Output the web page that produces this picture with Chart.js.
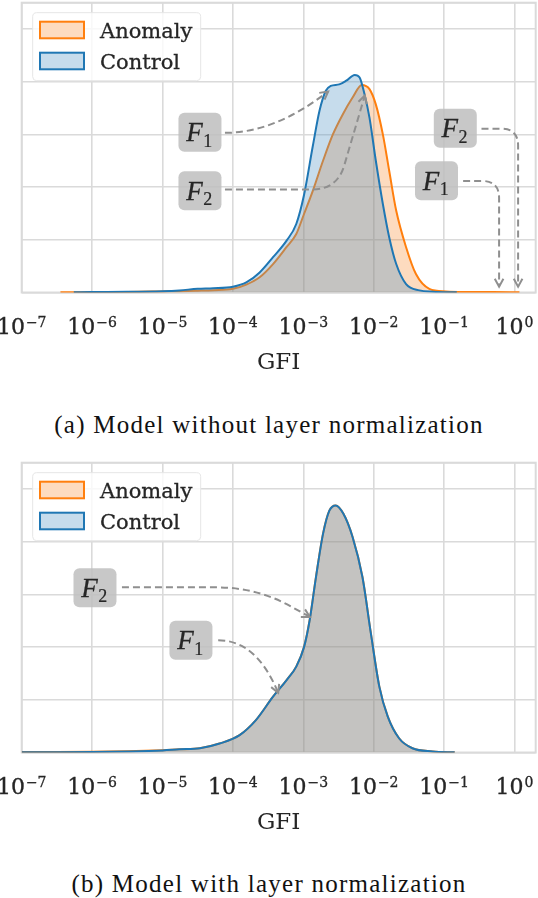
<!DOCTYPE html>
<html>
<head>
<meta charset="utf-8">
<script src="https://cdn.jsdelivr.net/npm/chart.js@4.4.1/dist/chart.umd.min.js"></script>
<style>
html, body { margin: 0; padding: 0; background: #fff; }
body { width: 538px; height: 898px; position: relative; overflow: hidden; }
canvas { position: absolute; left: 0; }
#chartA { top: 0; }
#chartB { top: 460px; }
.caption { position: absolute; left: 0; width: 538px; text-align: center; font-family: "Liberation Serif", serif;
  font-size: 25px; line-height: 25px; letter-spacing: 1.25px; color: #111; }
#capA { top: 412px; }
#capB { top: 871px; }
</style>
</head>
<body>
<canvas id="chartA" width="538" height="380"></canvas>
<div class="caption" id="capA"></div>
<canvas id="chartB" width="538" height="380"></canvas>
<div class="caption" id="capB"></div>
<script>
// values: x is log10(GFI), y is the kde density
const seriesNames = ['Anomaly', 'Control'];
const tickExponents = [-7, -6, -5, -4, -3, -2, -1, 0];
const captions = ['(a) Model without layer normalization', '(b) Model with layer normalization'];

// panel (a) - without layer norm
const anomalyA_log = [-6.45, -6.0, -5.5, -5.0, -4.76, -4.5, -4.28, -4.0, -3.81, -3.62, -3.43, -3.24, -3.10, -2.99, -2.865,
  -2.72, -2.58, -2.44, -2.30, -2.17, -2.06, -1.97, -1.87, -1.78, -1.68, -1.54, -1.40, -1.21, -0.97, -0.7, -0.3, 0.07];
const anomalyA_density = [0.004, 0.006, 0.01, 0.02, 0.025, 0.035, 0.045, 0.07, 0.15, 0.29, 0.54, 0.86, 1.11, 1.49, 1.93,
  2.50, 3.00, 3.38, 3.70, 3.94, 3.86, 3.57, 3.00, 2.31, 1.55, 0.86, 0.35, 0.07, 0.02, 0.01, 0.008, 0.005];
const controlA_log = [-6.26, -6.0, -5.5, -5.0, -4.76, -4.5, -4.28, -4.0, -3.81, -3.62, -3.43, -3.24, -3.10, -2.99, -2.865,
  -2.77, -2.68, -2.61, -2.49, -2.39, -2.27, -2.20, -2.13, -2.06, -1.97, -1.87, -1.78, -1.68, -1.54, -1.35, -1.16, -0.82];
const controlA_density = [0.004, 0.008, 0.012, 0.025, 0.04, 0.07, 0.08, 0.11, 0.19, 0.38, 0.67, 0.98, 1.30, 1.85, 2.78,
  3.45, 3.83, 3.92, 3.95, 4.02, 4.13, 4.08, 3.76, 3.32, 2.50, 1.68, 1.05, 0.54, 0.16, 0.04, 0.015, 0.003];

// panel (b) - with layer norm, the two curves sit on top of each other
const anomalyB_log = [-7.0, -6.5, -6.0, -5.5, -5.0, -4.76, -4.47, -4.19, -3.905, -3.67, -3.43, -3.24, -3.10, -2.99, -2.91,
  -2.82, -2.72, -2.63, -2.54, -2.43, -2.30, -2.16, -2.04, -1.92, -1.80, -1.64, -1.45, -1.16, -0.85];
const anomalyB_density = [0.008, 0.008, 0.012, 0.025, 0.045, 0.06, 0.08, 0.17, 0.33, 0.62, 1.06, 1.37, 1.63, 2.0, 2.51,
  3.33, 4.15, 4.59, 4.69, 4.53, 4.09, 3.33, 2.26, 1.25, 0.68, 0.27, 0.08, 0.02, 0.003];
const controlB_log = [-7.0, -6.5, -6.0, -5.5, -5.0, -4.76, -4.47, -4.19, -3.905, -3.67, -3.43, -3.24, -3.10, -2.99, -2.91,
  -2.82, -2.72, -2.63, -2.54, -2.43, -2.30, -2.16, -2.04, -1.92, -1.80, -1.64, -1.45, -1.16, -0.85];
const controlB_density = [0.005, 0.006, 0.01, 0.02, 0.04, 0.06, 0.08, 0.17, 0.33, 0.62, 1.06, 1.37, 1.63, 2.0, 2.51,
  3.33, 4.15, 4.59, 4.69, 4.53, 4.09, 3.33, 2.26, 1.25, 0.68, 0.27, 0.08, 0.02, 0.003];

// F1 / F2 callouts, in data units (log10 GFI, density)
const notesA = [
  { sub: '1', box: [-4.468, 3.04], from: [-4.113, 3.03], bend: [-3.404, 3.03], to: [-2.647, 3.816], round: 999 },
  { sub: '2', box: [-4.468, 1.93], from: [-4.113, 1.955], bend: [-2.519, 1.955], to: [-2.126, 3.74], round: 25 },
  { sub: '2', box: [-0.841, 3.116], from: [-0.469, 3.11], bend: [0.051, 3.11], to: [0.051, 0.11], round: 17 },
  { sub: '1', box: [-1.108, 2.12], from: [-0.730, 2.117], bend: [-0.219, 2.117], to: [-0.219, 0.11], round: 17 }
];
const notesB = [
  { sub: '2', box: [-5.959, 3.125], from: [-5.576, 3.134], bend: [-3.659, 3.134], to: [-2.907, 2.572], round: 40 },
  { sub: '1', box: [-4.596, 2.131], from: [-4.209, 2.131], bend: [-3.665, 2.131], to: [-3.357, 1.133], round: 999 }
];

const lineColors = ['#ff7f0e', '#1f77b4'];
const fillColors = ['rgba(247,111,0,0.25)', 'rgba(82,149,197,0.33)'];
const gridColor = '#dadada';
const textColor = '#262626';
const serif = '"DejaVu Serif", serif';

function toPoints(logs, vals) {
  return logs.map((e, i) => ({ x: 10 ** e, y: vals[i] }));
}

// text with a hair of stroke so it is as heavy as the matplotlib output
function heavyText(ctx, txt, x, y, w) {
  ctx.fillText(txt, x, y);
  ctx.lineWidth = w;
  ctx.strokeStyle = ctx.fillStyle;
  ctx.strokeText(txt, x, y);
}

// light frame around the plot, like seaborn whitegrid
const framePlugin = {
  id: 'frame',
  beforeDatasetsDraw(chart) {
    const a = chart.chartArea, ctx = chart.ctx;
    ctx.save();
    ctx.strokeStyle = gridColor;
    ctx.lineWidth = 2;
    ctx.strokeRect(a.left, a.top, a.right - a.left, a.bottom - a.top);
    ctx.restore();
  }
};

// 10^n tick labels with a raised exponent, placed at the scale's ticks
const powerTicksPlugin = {
  id: 'powerTicks',
  afterDraw(chart) {
    const sx = chart.scales.x, ctx = chart.ctx;
    const base = chart.chartArea.bottom + 41.8;
    ctx.save();
    ctx.fillStyle = textColor;
    ctx.textBaseline = 'alphabetic';
    ctx.textAlign = 'left';
    sx.ticks.forEach((t, i) => {
      const ex = String(tickExponents[i]).replace('-', '\u2212');
      ctx.font = '22px ' + serif;
      const wb = ctx.measureText('10').width;
      ctx.font = '14px ' + serif;
      const we = ctx.measureText(ex).width;
      const x0 = sx.getPixelForValue(t.value) - (wb + we + 1) / 2;
      ctx.font = '22px ' + serif;
      heavyText(ctx, '10', x0, base, 0.35);
      ctx.font = '14px ' + serif;
      heavyText(ctx, ex, x0 + wb + 1, base - 7.6, 0.3);
    });
    ctx.restore();
  }
};

// legend box in the upper left corner of the plot
const legendPlugin = {
  id: 'innerLegend',
  afterDatasetsDraw(chart) {
    const a = chart.chartArea, ctx = chart.ctx;
    const x0 = a.left + 11, y0 = a.top + 10;
    ctx.save();
    ctx.beginPath();
    ctx.roundRect(x0, y0, 168, 68, 4);
    ctx.fillStyle = 'rgba(255,255,255,0.8)';
    ctx.fill();
    ctx.strokeStyle = '#e6e6e6';
    ctx.lineWidth = 1;
    ctx.stroke();
    chart.data.datasets.forEach((ds, i) => {
      const ry = y0 + 9 + i * 31;
      ctx.fillStyle = '#fff';
      ctx.fillRect(x0 + 7.3, ry, 44, 16.6);
      ctx.fillStyle = ds.backgroundColor;
      ctx.fillRect(x0 + 7.3, ry, 44, 16.6);
      ctx.strokeStyle = ds.borderColor;
      ctx.lineWidth = 2;
      ctx.strokeRect(x0 + 7.3, ry, 44, 16.6);
      ctx.fillStyle = textColor;
      ctx.font = '21px ' + serif;
      ctx.textBaseline = 'alphabetic';
      heavyText(ctx, ds.label, x0 + 67.3, ry + 8.3 + 7.5, 0.3);
    });
    ctx.restore();
  }
};

// dashed arrows and grey F boxes
const notesPlugin = {
  id: 'notes',
  afterDatasetsDraw(chart) {
    const notes = chart.options.plugins.notes.items;
    const sx = chart.scales.x, sy = chart.scales.y, ctx = chart.ctx;
    const px = p => [sx.getPixelForValue(10 ** p[0]), sy.getPixelForValue(p[1])];
    ctx.save();
    notes.forEach(n => {
      const s = px(n.from), c = px(n.bend), e = px(n.to);
      const d1 = Math.hypot(c[0] - s[0], c[1] - s[1]), d2 = Math.hypot(e[0] - c[0], e[1] - c[1]);
      const r1 = Math.min(n.round, d1), r2 = Math.min(n.round, d2);
      const p1 = [c[0] - (c[0] - s[0]) / d1 * r1, c[1] - (c[1] - s[1]) / d1 * r1];
      const p2 = [c[0] + (e[0] - c[0]) / d2 * r2, c[1] + (e[1] - c[1]) / d2 * r2];
      ctx.strokeStyle = '#8f8f8f';
      ctx.lineWidth = 2;
      ctx.setLineDash([7, 4]);
      ctx.beginPath();
      ctx.moveTo(s[0], s[1]);
      ctx.lineTo(p1[0], p1[1]);
      ctx.quadraticCurveTo(c[0], c[1], p2[0], p2[1]);
      ctx.lineTo(e[0], e[1]);
      ctx.stroke();
      // open arrow head
      const dx = e[0] - p2[0], dy = e[1] - p2[1];
      const ang = (Math.abs(dx) < 0.5 && Math.abs(dy) < 0.5) ? Math.atan2(e[1] - c[1], e[0] - c[0]) : Math.atan2(dy, dx);
      ctx.setLineDash([]);
      ctx.beginPath();
      ctx.moveTo(e[0] - 9 * Math.cos(ang - 0.5), e[1] - 9 * Math.sin(ang - 0.5));
      ctx.lineTo(e[0], e[1]);
      ctx.lineTo(e[0] - 9 * Math.cos(ang + 0.5), e[1] - 9 * Math.sin(ang + 0.5));
      ctx.stroke();
      // label box
      const b = px(n.box);
      ctx.beginPath();
      ctx.roundRect(b[0] - 21.5, b[1] - 19.5, 43, 39, 6);
      ctx.fillStyle = 'rgba(190,190,190,0.85)';
      ctx.fill();
      ctx.fillStyle = textColor;
      ctx.textBaseline = 'alphabetic';
      ctx.font = 'italic 27px "Liberation Serif", serif';
      const wF = ctx.measureText('F').width;
      ctx.font = '18px "Liberation Serif", serif';
      const wS = ctx.measureText(n.sub).width;
      const tx = b[0] - (wF + wS) / 2 - 1;
      ctx.font = 'italic 27px "Liberation Serif", serif';
      heavyText(ctx, 'F', tx, b[1] + 8.8, 0.3);
      ctx.font = '18px "Liberation Serif", serif';
      heavyText(ctx, n.sub, tx + wF + 0.5, b[1] + 14.5, 0.2);
    });
    ctx.restore();
  }
};

function makeChart(id, anomalyLog, anomalyDensity, controlLog, controlDensity, notes) {
  const ctx = document.getElementById(id).getContext('2d');
  return new Chart(ctx, {
    type: 'line',
    data: {
      datasets: [
        {
          label: seriesNames[0], data: toPoints(anomalyLog, anomalyDensity),
          borderColor: lineColors[0], backgroundColor: fillColors[0], borderWidth: 2,
          fill: 'origin', cubicInterpolationMode: 'monotone', pointRadius: 0, order: 1
        },
        {
          label: seriesNames[1], data: toPoints(controlLog, controlDensity),
          borderColor: lineColors[1], backgroundColor: fillColors[1], borderWidth: 2,
          fill: 'origin', cubicInterpolationMode: 'monotone', pointRadius: 0, order: 0
        }
      ]
    },
    options: {
      responsive: false,
      animation: false,
      layout: { padding: { top: 2.7, right: 2.3, left: 0, bottom: 0 } },
      plugins: {
        legend: { display: false },
        tooltip: { enabled: false },
        notes: { items: notes }
      },
      scales: {
        x: {
          type: 'logarithmic',
          min: 1e-7,
          max: 2,
          afterBuildTicks: s => { s.ticks = tickExponents.map(e => ({ value: 10 ** e })); },
          afterFit: s => { s.height = 87.5; s.paddingLeft = 0; s.paddingRight = 0; },
          grid: { color: gridColor, lineWidth: 1.6, drawTicks: false },
          border: { display: false },
          ticks: { display: false },
          title: {
            display: true, text: 'GFI', color: textColor,
            font: { family: serif, size: 23 }, padding: { top: 0, bottom: 3.5 }
          }
        },
        y: {
          min: 0,
          max: 5.5,
          afterFit: s => { s.width = 21.7; },
          ticks: { display: false, stepSize: 1 },
          grid: { color: gridColor, lineWidth: 1.6, drawTicks: false },
          border: { display: false }
        }
      }
    },
    plugins: [framePlugin, legendPlugin, notesPlugin, powerTicksPlugin]
  });
}

makeChart('chartA', anomalyA_log, anomalyA_density, controlA_log, controlA_density, notesA);
makeChart('chartB', anomalyB_log, anomalyB_density, controlB_log, controlB_density, notesB);
document.getElementById('capA').textContent = captions[0];
document.getElementById('capB').textContent = captions[1];
</script>
</body>
</html>
